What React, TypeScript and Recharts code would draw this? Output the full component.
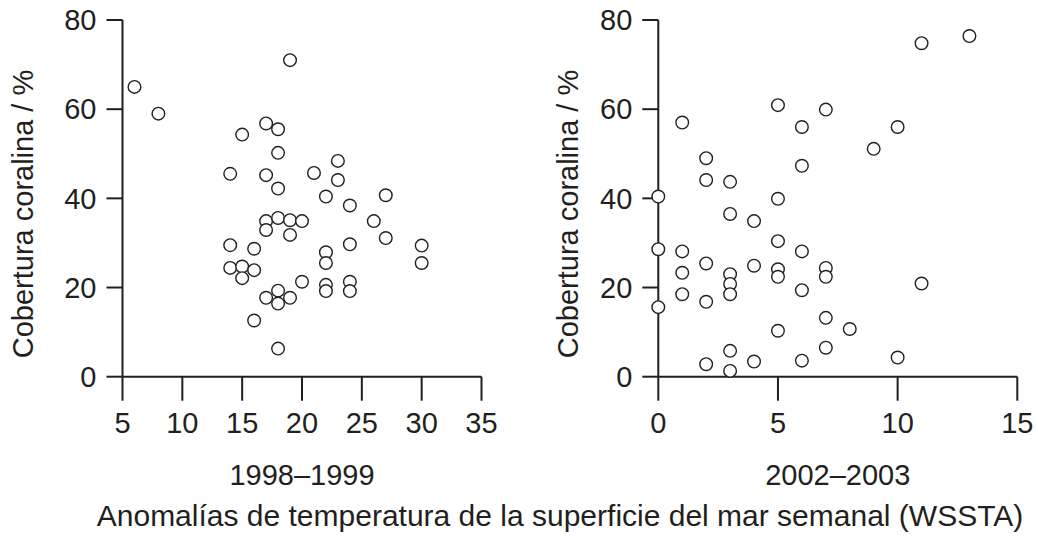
import { ScatterChart, Scatter, XAxis, YAxis } from 'recharts';

// 1998–1999 panel: WSSTA (x) vs coral cover % (y)
const x98 = [6, 8, 19, 15, 17, 18, 18, 14, 17, 18, 21, 23, 23, 22, 24, 27, 17, 17, 18, 19, 20, 19, 26, 27, 14, 16, 24, 30, 30, 22, 22, 14, 15, 16, 15, 20, 22, 22, 24, 24, 18, 17, 19, 18, 16, 18];
const y98 = [65, 59, 71, 54.3, 56.8, 55.5, 50.2, 45.5, 45.2, 42.2, 45.7, 48.4, 44.1, 40.4, 38.4, 40.7, 34.9, 32.9, 35.6, 35.1, 34.9, 31.8, 34.9, 31.1, 29.5, 28.7, 29.7, 29.4, 25.5, 27.9, 25.5, 24.4, 24.7, 23.9, 22.1, 21.3, 20.6, 19.2, 21.3, 19.2, 19.3, 17.7, 17.7, 16.4, 12.6, 6.3];

// 2002–2003 panel
const x02 = [11, 13, 5, 7, 1, 6, 10, 9, 2, 6, 2, 3, 0, 5, 3, 4, 5, 0, 1, 6, 2, 4, 5, 5, 7, 7, 1, 3, 3, 3, 1, 2, 0, 6, 11, 7, 8, 5, 3, 4, 2, 3, 6, 7, 10];
const y02 = [74.8, 76.4, 60.9, 59.9, 57.0, 56.0, 56.0, 51.1, 49.0, 47.3, 44.1, 43.7, 40.4, 39.9, 36.5, 34.9, 30.4, 28.6, 28.1, 28.1, 25.4, 24.9, 24.1, 22.4, 24.4, 22.4, 23.3, 23.0, 20.8, 18.5, 18.5, 16.8, 15.6, 19.4, 20.9, 13.2, 10.7, 10.3, 5.8, 3.4, 2.8, 1.3, 3.6, 6.5, 4.3];

const ticksX98 = [5, 10, 15, 20, 25, 30, 35];
const ticksX02 = [0, 5, 10, 15];
const ticksY = [0, 20, 40, 60, 80];

const panelTitles = ['1998–1999', '2002–2003'];
const yTitle = 'Cobertura coralina / %';
const xTitle = 'Anomalías de temperatura de la superficie del mar semanal (WSSTA)';

const INK = '#231f20';
const FONT = '"Liberation Sans", Arial, Helvetica, sans-serif';
const FS = 29;
const TITLE_FS = 30;

const toPoints = (xs: number[], ys: number[]) => xs.map((x, i) => ({ x, y: ys[i] }));

const ring = (p: any) => (
  <circle cx={p.cx} cy={p.cy} r={6.3} fill="#fff" stroke={INK} strokeWidth={1.4} />
);

interface PanelProps {
  data: { x: number; y: number }[];
  domain: [number, number];
  ticks: number[];
  title: string;
  left: number;
  width: number;
  axisW: number;
  labelX: number;
}

function Panel({ data, domain, ticks, title, left, width, axisW, labelX }: PanelProps) {
  const tickStyle = { fill: INK, fontSize: FS, fontFamily: FONT };
  const line = { stroke: INK, strokeWidth: 2 };
  return (
    <div style={{ position: 'absolute', left, top: 0 }}>
      <ScatterChart width={width} height={538} margin={{ top: 20, right: width - axisW - 359, bottom: 53.3, left: 0 }}>
        <XAxis
          type="number"
          dataKey="x"
          domain={domain}
          ticks={ticks}
          interval={0}
          height={108}
          tickSize={24}
          tickMargin={12}
          tick={tickStyle}
          axisLine={line}
          tickLine={line}
          label={{ value: title, position: 'insideBottom', offset: 0, fill: INK, fontSize: FS, fontFamily: FONT }}
        />
        <YAxis
          type="number"
          dataKey="y"
          domain={[0, 80]}
          ticks={ticksY}
          interval={0}
          width={axisW}
          tickSize={16}
          tickMargin={10}
          tick={tickStyle}
          axisLine={line}
          tickLine={line}
          label={{
            content: () => (
              <text
                x={labelX}
                y={214}
                transform={`rotate(-90 ${labelX} 214)`}
                textAnchor="middle"
                dominantBaseline="central"
                fill={INK}
                fontSize={FS}
                fontFamily={FONT}
              >
                {yTitle}
              </text>
            ),
          }}
        />
        <Scatter data={data} shape={ring} isAnimationActive={false} />
      </ScatterChart>
    </div>
  );
}

export default function App() {
  return (
    <div style={{ position: 'absolute', left: 0, top: 0, width: 1038, height: 538, background: '#fff', fontFamily: FONT }}>
      <Panel data={toPoints(x98, y98)} domain={[5, 35]} ticks={ticksX98} title={panelTitles[0]} left={0} width={520} axisW={122.5} labelX={22.5} />
      <Panel data={toPoints(x02, y02)} domain={[0, 15]} ticks={ticksX02} title={panelTitles[1]} left={520} width={518} axisW={138.3} labelX={48} />
      <div
        style={{
          position: 'absolute',
          left: 60,
          width: 1000,
          top: 500.6,
          textAlign: 'center',
          fontSize: TITLE_FS,
          lineHeight: `${TITLE_FS}px`,
          color: INK,
          whiteSpace: 'nowrap',
        }}
      >
        {xTitle}
      </div>
    </div>
  );
}
